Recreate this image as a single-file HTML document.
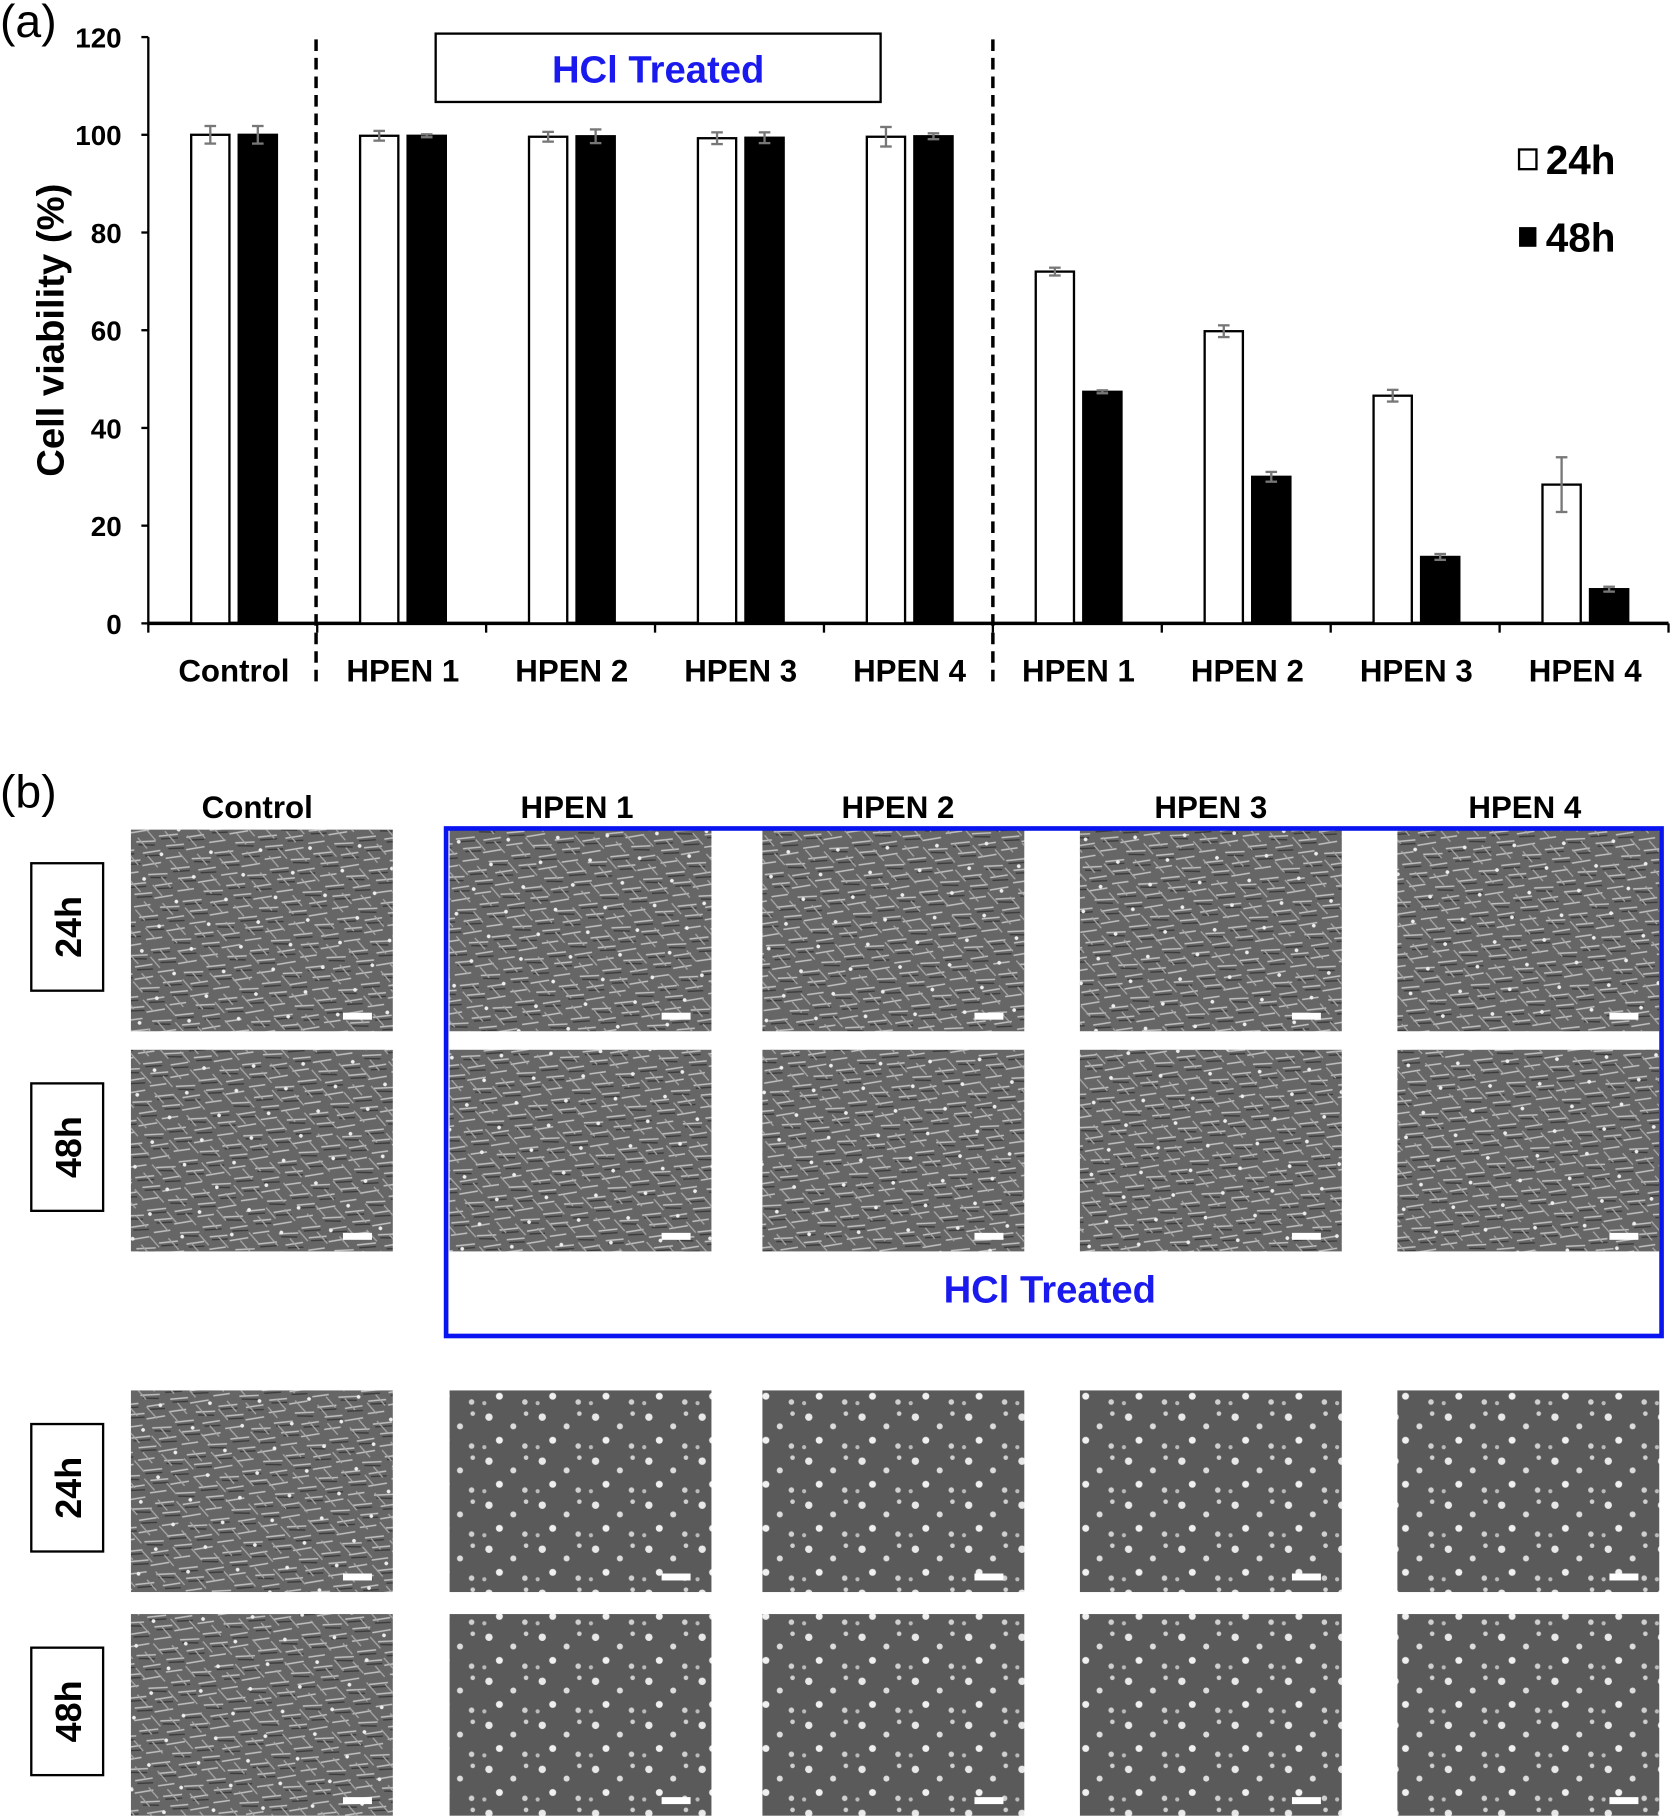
<!DOCTYPE html>
<html><head><meta charset="utf-8"><style>
html,body{margin:0;padding:0;background:#fff}
svg{display:block}
text{font-family:"Liberation Sans","Noto Sans CJK KR",sans-serif}
</style></head><body>
<svg id="fig" width="1672" height="1818" viewBox="0 0 1443 1569" xmlns="http://www.w3.org/2000/svg">
<defs>
<pattern id="cells" width="40" height="30" patternUnits="userSpaceOnUse" patternTransform="rotate(-20)">
<rect width="40" height="30" fill="#666"/>
<path d="M2 5 L18 9 M22 3 L38 8 M5 15 L20 19 M24 14 L39 17 M1 25 L15 28 M20 24 L36 27" stroke="#c0c0c0" stroke-width="1.3"/>
<path d="M3 8 L17 12 M23 6 L36 11 M6 18 L19 22 M25 17 L38 21" stroke="#3a3a3a" stroke-width="1.2"/>
</pattern>
<pattern id="cells2" width="34" height="26" patternUnits="userSpaceOnUse" patternTransform="rotate(35)">
<path d="M2 4 L14 7 M18 12 L31 15 M4 20 L16 23" stroke="#a8a8a8" stroke-width="1.1"/>
<circle cx="27" cy="4" r="1.6" fill="#eee"/>
</pattern>
<pattern id="dead" width="46" height="38" patternUnits="userSpaceOnUse">
<rect width="46" height="38" fill="#5a5a5a"/>
<circle cx="8" cy="7" r="3.2" fill="#e8e8e8"/><circle cx="29" cy="15" r="2.6" fill="#dcdcdc"/>
<circle cx="17" cy="27" r="3" fill="#f0f0f0"/><circle cx="39" cy="32" r="2.4" fill="#d0d0d0"/>
<circle cx="40" cy="4" r="2" fill="#cfcfcf"/><circle cx="4" cy="33" r="1.8" fill="#bbb"/>
</pattern>
</defs>

<text x="0" y="32" font-size="40">(a)</text>
<text x="0" y="697" font-size="40">(b)</text>

<g id="chart"></g>

<g id="panelb"></g>
</svg>
<script>
const categories=["Control","HPEN 1","HPEN 2","HPEN 3","HPEN 4","HPEN 1","HPEN 2","HPEN 3","HPEN 4"];
const values24=[100,99.8,99.6,99.3,99.6,72,59.8,46.6,28.4];
const err24=[1.8,1,1,1.2,2,0.8,1.2,1.2,5.6];
const values48=[100,99.8,99.7,99.4,99.7,47.4,30,13.6,7];
const err48=[1.8,0.3,1.4,1.1,0.6,0.3,1,0.6,0.5];
const yTicks=[0,20,40,60,80,100,120];

const NS="http://www.w3.org/2000/svg";
function mk(tag,attrs,parent,txt){const e=document.createElementNS(NS,tag);for(const k in attrs)e.setAttribute(k,attrs[k]);if(txt!==undefined)e.textContent=txt;parent.appendChild(e);return e;}
const chart=document.getElementById('chart');
const X0=128,X1=1440,Y0=538,Y120=32;
const gw=(X1-X0)/categories.length;
const y=v=>Y0-(v/120)*(Y0-Y120);
const gx=i=>X0+i*gw;

let ax=mk('line',{x1:X0,y1:Y120,x2:X0,y2:Y0,stroke:'#000','stroke-width':2},chart);


yTicks.forEach(t=>{
  let tk=mk('line',{x1:X0-6,y1:y(t),x2:X0,y2:y(t),stroke:'#000','stroke-width':2},chart);
  
  
  let tl=mk('text',{x:105,y:y(t)+9,'font-size':24,'font-weight':'bold','text-anchor':'end'},chart,String(t));
  
  
});
let yt=mk('text',{x:0,y:0,'font-size':33,'font-weight':'bold','text-anchor':'middle',transform:'translate(55,285) rotate(-90)'},chart,'Cell viability (%)');



let xa=mk('line',{x1:X0,y1:Y0,x2:X1,y2:Y0,stroke:'#000','stroke-width':3},chart);


for(let i=0;i<=categories.length;i++){
  let tk=mk('line',{x1:gx(i),y1:Y0,x2:gx(i),y2:Y0+8,stroke:'#000','stroke-width':2},chart);
  
  
}
categories.forEach((c,i)=>{
  let tl=mk('text',{x:gx(i)+gw/2+1,y:588,'font-size':27,'font-weight':'bold','text-anchor':'middle'},chart,c);
  
  
});

[gx(1)-1,gx(5)].forEach(xx=>{
  let d=mk('line',{x1:xx,y1:34,x2:xx,y2:592,stroke:'#000','stroke-width':3,'stroke-dasharray':'10 6'},chart);
  
  
});

function errbar(cx,v,e){
  let g=mk('g',{stroke:'#777','stroke-width':2},chart);
  
  
  mk('line',{x1:cx,y1:y(v+e),x2:cx,y2:y(v-e)},g);
  mk('line',{x1:cx-5,y1:y(v+e),x2:cx+5,y2:y(v+e)},g);
  mk('line',{x1:cx-5,y1:y(v-e),x2:cx+5,y2:y(v-e)},g);
}
categories.forEach((c,i)=>{
  const bw=33;
  const xw=gx(i)+37, xb=gx(i)+78;
  let b1=mk('rect',{x:xw,y:y(values24[i]),width:bw,height:Y0-y(values24[i]),fill:'#fff',stroke:'#000','stroke-width':2},chart);
  
  
  let b2=mk('rect',{x:xb,y:y(values48[i]),width:bw,height:Y0-y(values48[i]),fill:'#000',stroke:'#000','stroke-width':2},chart);
  
  
  errbar(xw+bw/2,values24[i],err24[i]);
  errbar(xb+bw/2,values48[i],err48[i]);
});

let hb=mk('rect',{x:376,y:29,width:384,height:59,fill:'#fff',stroke:'#000','stroke-width':2},chart);


let ht=mk('text',{x:568,y:71,'font-size':33,'font-weight':'bold',fill:'#1a1aee','text-anchor':'middle'},chart,'HCl Treated');



let l1=mk('rect',{x:1311,y:129,width:15,height:17,fill:'#fff',stroke:'#000','stroke-width':2},chart);


let lt1=mk('text',{x:1334,y:150,'font-size':35,'font-weight':'bold'},chart,'24h');


let l2=mk('rect',{x:1311,y:196,width:15,height:17,fill:'#000'},chart);


let lt2=mk('text',{x:1334,y:217,'font-size':35,'font-weight':'bold'},chart,'48h');



const pb=document.getElementById('panelb');
const colNames=["Control","HPEN 1","HPEN 2","HPEN 3","HPEN 4"];
const colX=[113,388,658,932,1206];
const colHX=[222,498,775,1045,1316];
const rowY=[716,906,1200,1393];
const rowLab=["24h","48h","24h","48h"];
colNames.forEach((n,i)=>{
  let t=mk('text',{x:colHX[i],y:706,'font-size':27,'font-weight':'bold','text-anchor':'middle'},pb,n);
  
  
});
rowY.forEach((ry,r)=>{
  let bx=mk('rect',{x:27,y:ry+29,width:62,height:110,fill:'#fff',stroke:'#000','stroke-width':2},pb);
  
  
  let t=mk('text',{x:0,y:0,'font-size':31,'font-weight':'bold','text-anchor':'middle',transform:`translate(70,${ry+84}) rotate(-90)`},pb,rowLab[r]);
  
  
  colX.forEach((cx,c)=>{
    const deadCell = r>=2 && c>0;
    let im=mk('rect',{x:cx,y:ry,width:226,height:174,fill:deadCell?'url(#dead)':'url(#cells)'},pb);
    
    
    if(!deadCell){
      let o=mk('rect',{x:cx,y:ry,width:226,height:174,fill:'url(#cells2)'},pb);
      
      
    }
    let sb=mk('rect',{x:cx+183,y:ry+158,width:25,height:6,fill:'#fff'},pb);
    
    
  });
});
let bb=mk('rect',{x:385,y:715,width:1049,height:438,fill:'none',stroke:'#0a14f0','stroke-width':4},pb);


let bt=mk('text',{x:906,y:1124,'font-size':33,'font-weight':'bold',fill:'#1a1aee','text-anchor':'middle'},pb,'HCl Treated');


</script>
</body></html>
